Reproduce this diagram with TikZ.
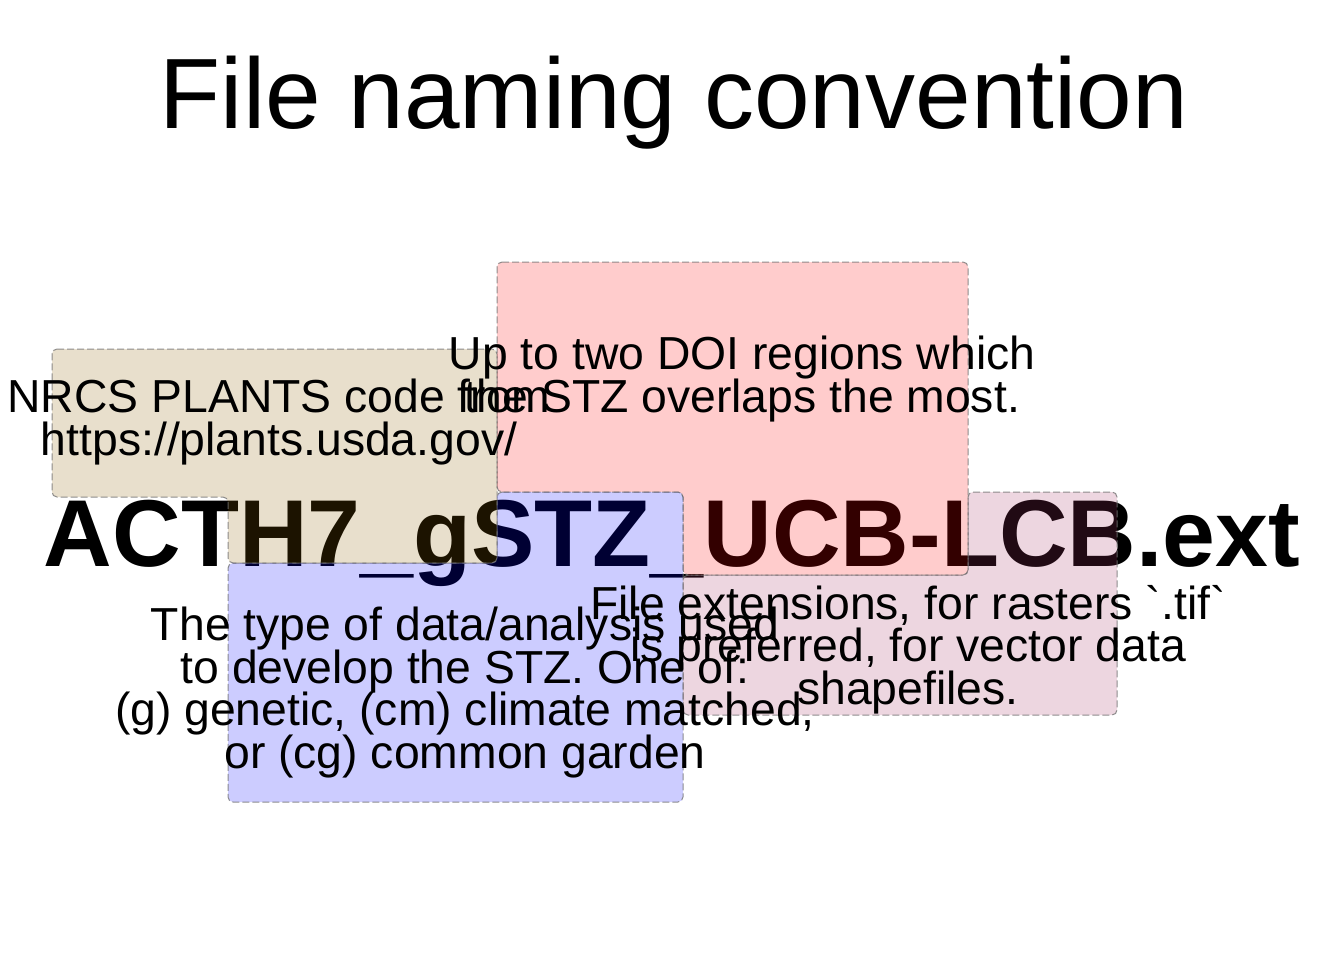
\documentclass[tikz,border=0pt]{standalone}
\usepackage{fontspec}
\setmainfont{Liberation Sans}
\definecolor{tanfill}{RGB}{140,95,0}
\definecolor{redfill}{RGB}{255,0,0}
\definecolor{bluefill}{RGB}{0,0,255}
\definecolor{pinkfill}{RGB}{165,50,100}
\newcommand\notefont{\fontsize{46.3}{42.5}\selectfont\lineskiplimit=-100pt\relax}

\begin{document}
\begin{tikzpicture}[
  x=1pt, y=-1pt,
  part/.style={draw=black!55, line width=1pt, dash pattern=on 7pt off 3pt, rounded corners=5pt, fill opacity=0.2, draw opacity=0.8},
  tanpart/.style={part, fill=tanfill},
  redpart/.style={part, fill=redfill},
  bluepart/.style={part, fill=bluefill},
  pinkpart/.style={part, fill=pinkfill},
  note/.style={align=center, anchor=base, inner sep=0pt, font=\notefont}
]
  \useasboundingbox (0,0) rectangle (1344,960);

  \node[anchor=base, inner sep=0pt, font=\fontsize{100}{110}\selectfont] (title) at (674,129) {File naming convention};
  \node[anchor=base, inner sep=0pt, font=\fontsize{95}{100}\selectfont\bfseries] (fname) at (672,566) {ACTH7\_gSTZ\_UCB-LCB.ext};

  % highlight over each part of the name, joined to its note
  \path[tanpart]  (52,349) -- (497,349) -- (497,563) -- (228,563) -- (228,497) -- (52,497) -- cycle;
  \path[redpart]  (497,262) -- (968,262) -- (968,575) -- (683,575) -- (683,492) -- (497,492) -- cycle;
  \path[bluepart] (497,492) -- (683,492) -- (683,802) -- (228,802) -- (228,563) -- (497,563) -- cycle;
  \path[pinkpart] (968,492) -- (1117,492) -- (1117,715) -- (683,715) -- (683,575) -- (968,575) -- cycle;

  % base of a note is the base line of its last line
  \node[note] (species) at (279,455) {NRCS PLANTS code from\\https://plants.usda.gov/};
  \node[note] (doi)     at (742,412) {Up to two DOI regions which\\the STZ overlaps the most.};
  \node[note] (method)  at (465,768) {The type of data/analysis used\\to develop the STZ. One of:\\(g) genetic, (cm) climate matched,\\or (cg) common garden};
  \node[note] (ext)     at (908,704) {File extensions, for rasters \textasciigrave.tif\textasciigrave\\is preferred, for vector data\\shapefiles.};
\end{tikzpicture}
\end{document}
